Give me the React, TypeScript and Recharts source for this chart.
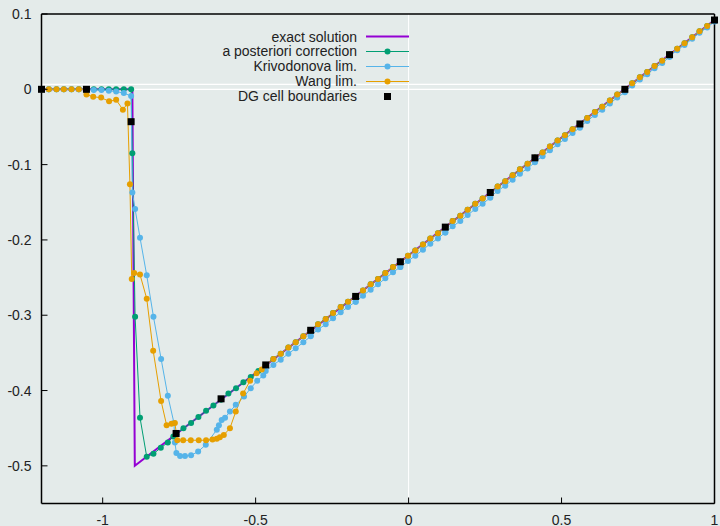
import {
  ComposedChart,
  Line,
  Scatter,
  XAxis,
  YAxis,
  ReferenceLine,
} from "recharts";

const xTicks = [-1, -0.5, 0, 0.5, 1];
const yTicks = [0.1, 0, -0.1, -0.2, -0.3, -0.4, -0.5];

// exact solution: shock near x = -0.9, then a straight ramp
const exactX = [-1.2, -0.903, -0.895, 1.0];
const exactU = [0, 0, -0.5, 0.092];

// DG cell boundaries, 15 cells on [-1.2, 1]
const cellX = [-1.2, -1.053, -0.907, -0.76, -0.613, -0.467, -0.32, -0.173, -0.027, 0.12, 0.267, 0.413, 0.56, 0.707, 0.853, 1.0];
const cellU = [0, 0, -0.043, -0.457, -0.411, -0.366, -0.32, -0.275, -0.229, -0.183, -0.137, -0.091, -0.046, 0.0, 0.046, 0.092];

// sample points in cells 5..14 (smooth part, same nodes for every scheme)
const tailX = [
  -0.467, -0.442, -0.418, -0.393, -0.369, -0.344, -0.32,
  -0.32, -0.296, -0.271, -0.247, -0.222, -0.198, -0.173,
  -0.173, -0.149, -0.124, -0.1, -0.076, -0.051, -0.027,
  -0.027, -0.002, 0.022, 0.047, 0.071, 0.096, 0.12,
  0.12, 0.144, 0.169, 0.193, 0.218, 0.242, 0.267,
  0.267, 0.291, 0.316, 0.34, 0.364, 0.389, 0.413,
  0.413, 0.438, 0.462, 0.487, 0.511, 0.536, 0.56,
  0.56, 0.584, 0.609, 0.633, 0.658, 0.682, 0.707,
  0.707, 0.731, 0.756, 0.78, 0.804, 0.829, 0.853,
  0.853, 0.878, 0.902, 0.927, 0.951, 0.976, 1.0,
];

// a posteriori correction
const correctionHeadX = [
  -1.2, -1.176, -1.151, -1.127, -1.102, -1.078, -1.053,
  -1.053, -1.029, -1.004, -0.98, -0.956, -0.931, -0.907,
  -0.903, -0.894, -0.878, -0.856, -0.834, -0.81, -0.787, -0.769, -0.76,
  -0.76, -0.736, -0.711, -0.687, -0.662, -0.638, -0.613,
  -0.613, -0.589, -0.564, -0.54, -0.516, -0.491, -0.467,
];
const correctionHeadU = [
  0, 0, 0, 0, 0, 0, 0,
  0, 0, 0, 0, 0, 0, 0,
  -0.085, -0.302, -0.436, -0.488, -0.484, -0.476, -0.469, -0.461, -0.458,
  -0.458, -0.45, -0.443, -0.435, -0.427, -0.42, -0.412,
  -0.412, -0.404, -0.397, -0.389, -0.382, -0.374, -0.366,
];
const correctionTailU = [
  -0.366, -0.358, -0.351, -0.343, -0.336, -0.328, -0.32,
  -0.32, -0.312, -0.305, -0.297, -0.289, -0.282, -0.275,
  -0.275, -0.267, -0.259, -0.252, -0.244, -0.236, -0.229,
  -0.229, -0.221, -0.214, -0.206, -0.198, -0.191, -0.183,
  -0.183, -0.175, -0.168, -0.16, -0.152, -0.145, -0.137,
  -0.137, -0.129, -0.122, -0.114, -0.106, -0.099, -0.091,
  -0.091, -0.084, -0.076, -0.068, -0.061, -0.053, -0.046,
  -0.046, -0.038, -0.03, -0.023, -0.015, -0.007, 0.0,
  0.0, 0.008, 0.016, 0.023, 0.031, 0.038, 0.046,
  0.046, 0.054, 0.061, 0.069, 0.077, 0.084, 0.092,
];

// Krivodonova limiter
const krivHeadX = [
  -1.2, -1.176, -1.151, -1.127, -1.102, -1.078, -1.053,
  -1.053, -1.029, -1.004, -0.98, -0.956, -0.931, -0.907,
  -0.903, -0.894, -0.878, -0.856, -0.834, -0.809, -0.787, -0.767, -0.764, -0.759,
  -0.747, -0.731, -0.711, -0.688, -0.663, -0.627, -0.62, -0.611,
  -0.6, -0.584, -0.565, -0.538, -0.516, -0.495, -0.475,
];
const krivHeadU = [
  0, 0, 0, 0, 0, 0, 0,
  0, -0.001, -0.001, -0.002, -0.003, -0.005, -0.009,
  -0.137, -0.159, -0.197, -0.247, -0.302, -0.358, -0.407, -0.443, -0.469, -0.483,
  -0.487, -0.487, -0.486, -0.481, -0.472, -0.452, -0.446, -0.439,
  -0.436, -0.428, -0.419, -0.408, -0.397, -0.387, -0.38,
];
const krivTailU = [
  -0.374, -0.366, -0.359, -0.351, -0.344, -0.336, -0.328,
  -0.327, -0.319, -0.312, -0.304, -0.296, -0.289, -0.282,
  -0.282, -0.274, -0.266, -0.259, -0.251, -0.243, -0.236,
  -0.236, -0.228, -0.221, -0.213, -0.205, -0.198, -0.19,
  -0.19, -0.182, -0.175, -0.167, -0.159, -0.152, -0.144,
  -0.143, -0.135, -0.128, -0.12, -0.112, -0.105, -0.097,
  -0.096, -0.089, -0.081, -0.073, -0.066, -0.058, -0.051,
  -0.05, -0.042, -0.034, -0.027, -0.019, -0.011, -0.004,
  -0.003, 0.005, 0.013, 0.02, 0.028, 0.035, 0.043,
  0.044, 0.052, 0.059, 0.067, 0.075, 0.082, 0.09,
];

// Wang limiter
const wangHeadX = [
  -1.2, -1.176, -1.151, -1.127, -1.102, -1.078, -1.053,
  -1.053, -1.031, -1.005, -0.979, -0.956, -0.934, -0.919, -0.911,
  -0.905, -0.897, -0.878, -0.856, -0.835, -0.809, -0.791, -0.775, -0.764,
  -0.756, -0.737, -0.712, -0.686, -0.662, -0.641, -0.627, -0.617, -0.604,
  -0.584, -0.565, -0.541, -0.518, -0.497, -0.48, -0.467,
];
const wangHeadU = [
  0, 0, 0, 0, 0, 0, 0,
  -0.007, -0.01, -0.011, -0.016, -0.014, -0.027, -0.019, -0.126,
  -0.252, -0.244, -0.246, -0.278, -0.347, -0.414, -0.446, -0.444, -0.443,
  -0.466, -0.466, -0.466, -0.466, -0.466, -0.465, -0.464, -0.462, -0.459,
  -0.45, -0.428, -0.404, -0.387, -0.377, -0.372, -0.366,
];
const wangTailU = [
  -0.366, -0.358, -0.351, -0.343, -0.336, -0.328, -0.32,
  -0.32, -0.312, -0.305, -0.297, -0.289, -0.282, -0.275,
  -0.275, -0.267, -0.259, -0.252, -0.244, -0.236, -0.229,
  -0.229, -0.221, -0.214, -0.206, -0.198, -0.191, -0.183,
  -0.183, -0.175, -0.168, -0.16, -0.152, -0.145, -0.137,
  -0.137, -0.129, -0.122, -0.114, -0.106, -0.099, -0.091,
  -0.091, -0.084, -0.076, -0.068, -0.061, -0.053, -0.046,
  -0.046, -0.038, -0.03, -0.023, -0.015, -0.007, 0.0,
  0.0, 0.008, 0.016, 0.023, 0.031, 0.038, 0.046,
  0.046, 0.054, 0.061, 0.069, 0.077, 0.084, 0.092,
];

const legendLabels = [
  "exact solution",
  "a posteriori correction",
  "Krivodonova lim.",
  "Wang lim.",
  "DG cell boundaries",
];

const PURPLE = "#9400d3";
const GREEN = "#009e73";
const BLUE = "#56b4e9";
const ORANGE = "#e69f00";
const BG = "#e4ebea";
const FONT = "'Liberation Sans', Arial, Helvetica, sans-serif";

const toPoints = (xs: number[], us: number[]) =>
  xs.map((x, i) => ({ x, y: us[i] }));

const exactData = toPoints(exactX, exactU);
const cellData = toPoints(cellX, cellU);
const correctionData = toPoints(
  [...correctionHeadX, ...tailX],
  [...correctionHeadU, ...correctionTailU]
);
const krivData = toPoints([...krivHeadX, ...tailX], [...krivHeadU, ...krivTailU]);
const wangData = toPoints([...wangHeadX, ...tailX], [...wangHeadU, ...wangTailU]);

const TICK = 6;

// axes are 1px thick so recharts still draws them; ticks point into the frame
const BottomTick = ({ x, y, payload }: any) => (
  <g>
    <line x1={x} y1={y} x2={x} y2={y - TICK} stroke="#000" />
    <text x={x} y={y + 21} textAnchor="middle" fontSize={14} fill="#222" fontFamily={FONT}>
      {payload.value}
    </text>
  </g>
);

const TopTick = ({ x, y }: any) => (
  <line x1={x} y1={y} x2={x} y2={y + TICK} stroke="#000" />
);

const LeftTick = ({ x, y, payload }: any) => (
  <g>
    <line x1={x} y1={y} x2={x + TICK} y2={y} stroke="#000" />
    <text x={x - 10} y={y + 5} textAnchor="end" fontSize={14} fill="#222" fontFamily={FONT}>
      {payload.value}
    </text>
  </g>
);

const RightTick = ({ x, y }: any) => (
  <line x1={x} y1={y} x2={x - TICK} y2={y} stroke="#000" />
);

const Square = ({ cx, cy }: any) => (
  <rect x={cx - 3.5} y={cy - 3.5} width={7} height={7} fill="#000" />
);

const legendColors = [PURPLE, GREEN, BLUE, ORANGE, "#000"];

const KeySample = ({ index }: { index: number }) => {
  const color = legendColors[index];
  return (
    <svg width={43} height={15} style={{ marginLeft: 9, display: "block" }}>
      {index === 4 ? (
        <rect x={18} y={4} width={7} height={7} fill="#000" />
      ) : (
        <>
          <line x1={0} y1={7.5} x2={43} y2={7.5} stroke={color} strokeWidth={index === 0 ? 2 : 1} />
          {index > 0 && <circle cx={21.5} cy={7.5} r={3} fill={color} />}
        </>
      )}
    </svg>
  );
};

const Key = () => (
  <div style={{ position: "absolute", left: 0, top: 29.5, width: 420, fontFamily: FONT }}>
    {legendLabels.map((label, i) => (
      <div key={label} style={{ display: "flex", alignItems: "center", height: 14.8 }}>
        <span
          style={{
            width: 357,
            textAlign: "right",
            fontSize: 14,
            lineHeight: "14.8px",
            color: "#222",
            whiteSpace: "nowrap",
          }}
        >
          {label}
        </span>
        <KeySample index={i} />
      </div>
    ))}
  </div>
);

const axisLine = { stroke: "#000", strokeWidth: 1.5 };

export default function App() {
  return (
    <div
      style={{
        position: "absolute",
        left: 0,
        top: 0,
        width: 720,
        height: 526,
        background: BG,
        overflow: "hidden",
      }}
    >
      <ComposedChart
        width={720}
        height={526}
        margin={{ top: 13, right: 4.5, bottom: 21.5, left: 40.5 }}
      >
        <XAxis
          type="number"
          dataKey="x"
          domain={[-1.2, 1]}
          ticks={xTicks}
          height={1}
          tickSize={0}
          tickMargin={0}
          tickLine={false}
          tick={<BottomTick />}
          axisLine={axisLine}
        />
        <XAxis
          xAxisId="top"
          orientation="top"
          type="number"
          domain={[-1.2, 1]}
          ticks={xTicks}
          height={1}
          tickSize={0}
          tickMargin={0}
          tickLine={false}
          tick={<TopTick />}
          axisLine={axisLine}
        />
        <YAxis
          type="number"
          dataKey="y"
          domain={[-0.55, 0.1]}
          ticks={yTicks}
          width={1}
          tickSize={0}
          tickMargin={0}
          tickLine={false}
          tick={<LeftTick />}
          axisLine={axisLine}
        />
        <YAxis
          yAxisId="right"
          orientation="right"
          type="number"
          domain={[-0.55, 0.1]}
          ticks={yTicks}
          width={1}
          tickSize={0}
          tickMargin={0}
          tickLine={false}
          tick={<RightTick />}
          axisLine={axisLine}
        />

        <ReferenceLine y={0.0065} stroke="#ffffff" strokeWidth={1.2} />
        <ReferenceLine y={0} stroke="#ffffff" strokeWidth={1.2} />
        <ReferenceLine x={0} stroke="#ffffff" strokeWidth={1} />

        <Line
          data={exactData}
          dataKey="y"
          type="linear"
          stroke={PURPLE}
          strokeWidth={2}
          dot={false}
          isAnimationActive={false}
        />
        <Line
          data={correctionData}
          dataKey="y"
          type="linear"
          stroke={GREEN}
          strokeWidth={1}
          dot={{ r: 3, fill: GREEN, stroke: "none" }}
          isAnimationActive={false}
        />
        <Line
          data={krivData}
          dataKey="y"
          type="linear"
          stroke={BLUE}
          strokeWidth={1}
          dot={{ r: 3, fill: BLUE, stroke: "none" }}
          isAnimationActive={false}
        />
        <Line
          data={wangData}
          dataKey="y"
          type="linear"
          stroke={ORANGE}
          strokeWidth={1}
          dot={{ r: 3, fill: ORANGE, stroke: "none" }}
          isAnimationActive={false}
        />
        <Scatter data={cellData} dataKey="y" shape={<Square />} isAnimationActive={false} />
      </ComposedChart>
      <Key />
    </div>
  );
}
